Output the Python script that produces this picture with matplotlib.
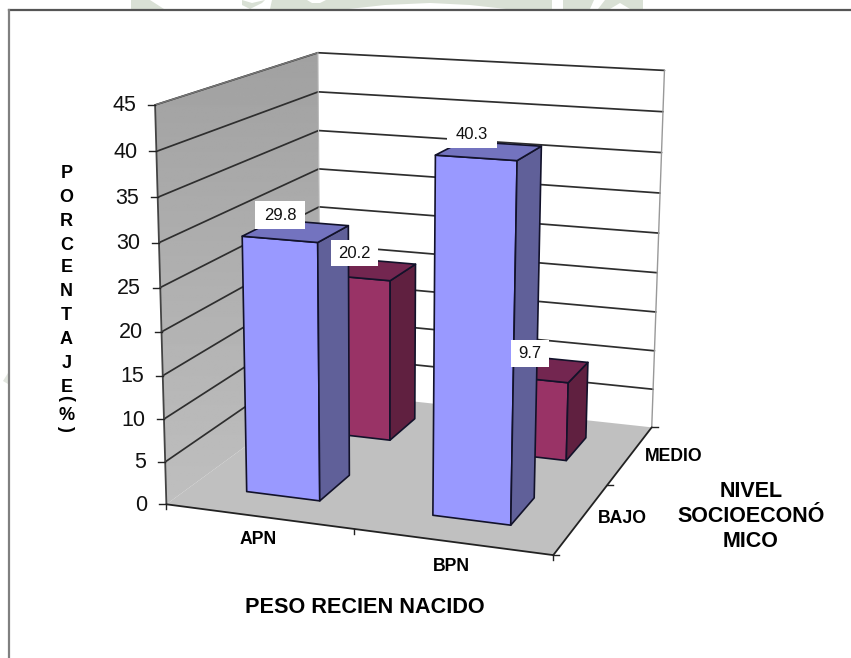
"""Barras 3D: peso del recien nacido segun nivel socioeconomico."""
import matplotlib
matplotlib.use("Agg")
import matplotlib.pyplot as plt
import numpy as np
from matplotlib.patches import Polygon

plt.rcParams["font.family"] = ["Liberation Sans", "DejaVu Sans"]

W, H = 851, 658

# datos
PESO = ["APN", "BPN"]
NIVEL = ["BAJO", "MEDIO"]
BAJO = [29.8, 40.3]
MEDIO = [20.2, 9.7]
Y_TICKS = [0, 5, 10, 15, 20, 25, 30, 35, 40, 45]

# calibracion de la camara: (x, prof, altura) -> pixel
CAL_3D = [(0, 0, 0), (0, 0, 45), (0, 1, 0), (0, 1, 45), (1, 1, 0), (1, 1, 45),
          (1, 0, 0), (0.5, 0, 0), (1, 0.5, 0),
          (0, 0, 40), (0, 0, 30), (0, 0, 20), (0, 0, 10),
          (0, 1, 40), (0, 1, 30), (0, 1, 20),
          (1, 1, 40), (1, 1, 30), (1, 1, 20)]
CAL_PX = [(167, 504), (155, 105), (320, 392), (318, 52.5), (651, 427), (664, 70.5),
          (553, 555), (353, 530), (608, 485),
          (156, 151.5), (159, 243), (161.5, 332), (164, 418),
          (318.5, 91.7), (319, 169.3), (319.5, 244),
          (663, 111.7), (660, 193), (658, 273)]


def fit_camera(pts, px):
    A, b = [], []
    for (x, d, z), (u, v) in zip(pts, px):
        z = z / 45
        A.append([x, d, z, 1, 0, 0, 0, 0, -u * x, -u * d, -u * z])
        A.append([0, 0, 0, 0, x, d, z, 1, -v * x, -v * d, -v * z])
        b += [u, v]
    p = np.linalg.lstsq(np.array(A, float), np.array(b, float), rcond=None)[0]
    return np.append(p, 1.0).reshape(3, 4)


CAM = fit_camera(CAL_3D, CAL_PX)


def proj(x, d, z):
    q = CAM @ np.array([x, d, z / 45, 1.0])
    return q[0] / q[2], q[1] / q[2]


def poly(ax, corners, **kw):
    ax.add_patch(Polygon([proj(*c) for c in corners], closed=True, **kw))


def edge(ax, a, b, **kw):
    p, q = proj(*a), proj(*b)
    ax.plot([p[0], q[0]], [p[1], q[1]], solid_capstyle="round", **kw)


def bar3d(ax, x0, x1, d0, d1, h, front, top, side, z):
    ec = dict(edgecolor="#12122a", linewidth=1.2, joinstyle="round", zorder=z)
    poly(ax, [(x0, d0, 0), (x1, d0, 0), (x1, d0, h), (x0, d0, h)], facecolor=front, **ec)
    poly(ax, [(x1, d0, 0), (x1, d1, 0), (x1, d1, h), (x1, d0, h)], facecolor=side, **ec)
    poly(ax, [(x0, d0, h), (x1, d0, h), (x1, d1, h), (x0, d1, h)], facecolor=top, **ec)


fig = plt.figure(figsize=(W / 100, H / 100), dpi=100)
ax = fig.add_axes([0, 0, 1, 1])
ax.axis("off")

# marca de agua que asoma sobre el marco
SELLO = "#d9e0d5"
for pts in ([(131, 0), (150, 0), (164, 9), (131, 9)],
            [(242, 0), (252, 3), (265, 0), (262, 3), (250, 9), (242, 5)],
            [(270, 9), (272, 0), (552, 0), (552, 9), (506, 9), (470, 5), (430, 3), (385, 5), (349, 9)],
            [(563, 0), (594, 0), (590, 9), (563, 9)],
            [(598, 9), (605, 0), (643, 0), (643, 9), (630, 9), (620, 3), (610, 9)]):
    ax.add_patch(Polygon(pts, closed=True, facecolor=SELLO, edgecolor="none", zorder=0.5))
ax.add_patch(Polygon([(307, 0), (326, 0), (320, 3), (312, 3)], closed=True, facecolor="white",
                     edgecolor="none", zorder=0.6))
ax.add_patch(Polygon([(3, 381), (8, 373), (8, 384)], closed=True, facecolor="#e2e6df",
                     edgecolor="none", zorder=0.5))

# marco del grafico
ax.plot([W, 9], [10, 10], color="#555555", lw=1.6, zorder=1)
ax.plot([8.7, 8.7], [10, H], color="#808080", lw=1.6, zorder=1)

# pared izquierda con degradado, pared del fondo y piso
wall = Polygon([proj(0, 0, 0), proj(0, 0, 45), proj(0, 1, 45), proj(0, 1, 0)],
               closed=True, facecolor="none", edgecolor="none")
ax.add_patch(wall)
grad = np.linspace(0.63, 0.75, 256).reshape(-1, 1)
im = ax.imshow(grad, extent=[140, 330, 510, 50], cmap="gray", vmin=0, vmax=1,
               aspect="auto", zorder=1)
im.set_clip_path(wall)
ax.set_xlim(0, W)
ax.set_ylim(H, 0)
poly(ax, [(0, 1, 0), (1, 1, 0), (1, 1, 45), (0, 1, 45)], facecolor="white", edgecolor="none", zorder=1)
poly(ax, [(0, 0, 0), (1, 0, 0), (1, 1, 0), (0, 1, 0)], facecolor="#c0c0c0", edgecolor="none", zorder=2.5)

# lineas de division
for t in Y_TICKS[1:]:
    edge(ax, (0, 0, t), (0, 1, t), color="#2e2e2e", lw=1.25, zorder=2)
    edge(ax, (0, 1, t), (1, 1, t), color="#2e2e2e", lw=1.25, zorder=2)
edge(ax, (0, 0, 45), (0, 1, 45), color="#777777", lw=1.0, zorder=2)
edge(ax, (1, 1, 0), (1, 1, 45), color="#999999", lw=1.0, zorder=2)
edge(ax, (0, 1, 0), (0, 1, 45), color="#bbbbbb", lw=0.8, zorder=2)

# ejes y marcas
edge(ax, (0, 0, 0), (0, 0, 45), color="#444444", lw=1.3, zorder=3)
edge(ax, (0, 0, 0), (1, 0, 0), color="#222222", lw=1.3, zorder=3)
edge(ax, (1, 0, 0), (1, 1, 0), color="#222222", lw=1.3, zorder=3)
for t in Y_TICKS:
    u, v = proj(0, 0, t)
    ax.plot([u - 7, u], [v, v], color="#222222", lw=1.0, zorder=3)
    ax.text(u - 19, v + 1, str(t), ha="right", va="center", fontsize=15.5, color="#111111")
for f in (0, 0.5, 1):
    u, v = proj(f, 0, 0)
    ax.plot([u, u], [v, v + 5], color="#222222", lw=1.0, zorder=3)
    u, v = proj(1, f, 0)
    ax.plot([u, u + 6], [v, v], color="#222222", lw=1.0, zorder=3)

# barras, de atras hacia adelante
X_RANGE = [(0.15, 0.35), (0.65, 0.85)]
D_BAJO = (0.15, 0.35)
D_MEDIO = (0.65, 0.85)
AZUL = ("#9999ff", "#7373bf", "#606099")
VINO = ("#993366", "#732650", "#602040")
for i in range(2):
    x0, x1 = X_RANGE[i]
    bar3d(ax, x0, x1, *D_MEDIO, MEDIO[i], *VINO, z=4)
for i in range(2):
    x0, x1 = X_RANGE[i]
    bar3d(ax, x0, x1, *D_BAJO, BAJO[i], *AZUL, z=5)

# etiquetas de valor
LAB_BOX = [(255, 201, 50, 28), (447, 120, 50, 28), (331, 240, 47, 26), (511, 340, 38, 27)]
LAB_VAL = BAJO + MEDIO
for (bx, by, bw, bh), val in zip(LAB_BOX, LAB_VAL):
    ax.add_patch(plt.Rectangle((bx, by), bw, bh, facecolor="white", edgecolor="none", zorder=6))
    ax.text(bx + bw / 2, by + bh / 2 + 0.5, f"{val:.1f}", ha="center", va="center",
            fontsize=12, color="#111111", zorder=7)

# textos de ejes
BOLD = dict(fontweight="bold", color="black", ha="center")
for name, (u, v) in zip(PESO, [(258, 544), (451, 571)]):
    ax.text(u, v, name, fontsize=12.7, va="baseline", **BOLD)
for name, (u, v) in zip(NIVEL, [(622, 523), (674, 461)]):
    ax.text(u, v, name, fontsize=12.7, va="baseline", **BOLD)
ax.text(365, 613, "PESO RECIEN NACIDO", fontsize=15.6, va="baseline", **BOLD)
ax.text(751, 497, "NIVEL", fontsize=15.5, va="baseline", **BOLD)
ax.text(751, 522, "SOCIOECONÓ", fontsize=15.5, va="baseline", **BOLD)
ax.text(751, 547, "MICO", fontsize=15.5, va="baseline", **BOLD)

for ch, v in zip("PORCENTAJE", [172, 195, 219, 243, 266, 290, 314, 337, 361, 385]):
    ax.text(66.5, v + 6.5, ch, fontsize=13, va="baseline", **BOLD)
ax.text(65.5, 398, "(", fontsize=13, rotation=270, va="center", **BOLD)
ax.text(66.5, 415, "%", fontsize=13, va="center", **BOLD)
ax.text(66, 428, ")", fontsize=13, rotation=270, va="center", **BOLD)

fig.savefig("out.png", dpi=100)
